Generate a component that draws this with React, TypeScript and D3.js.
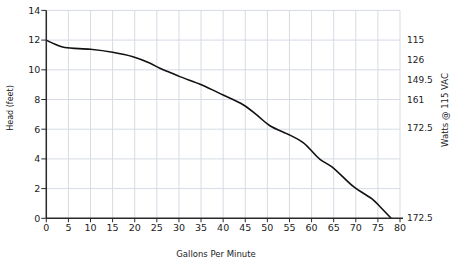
import React from "react";
import * as d3 from "d3";

const gpm = [0, 2.4, 4.2, 10, 15, 19.6, 23.5, 25.7, 27.6, 30.2, 35.2, 40, 44.6, 47.6, 50.5, 55.1, 58.1, 61.9, 64.6, 69.5, 74, 75.5, 78];
const head = [12, 11.67, 11.5, 11.38, 11.18, 10.88, 10.44, 10.1, 9.87, 9.54, 8.98, 8.3, 7.63, 6.96, 6.25, 5.6, 5.1, 3.97, 3.47, 2.13, 1.23, 0.78, 0];
const xTicks = [0, 5, 10, 15, 20, 25, 30, 35, 40, 45, 50, 55, 60, 65, 70, 75, 80];
const yTicks = [0, 2, 4, 6, 8, 10, 12, 14];
const wattLabels = ["115", "126", "149.5", "161", "172.5", "172.5"];
const wattHeads = [12, 10.7, 9.3, 8, 6.1, 0];

export default function App() {
  const W = 452, H = 264;
  const x = d3.scaleLinear().domain([0, 80]).range([46.3, 400]);
  const y = d3.scaleLinear().domain([0, 14]).range([218.3, 10.4]);
  const pts: [number, number][] = gpm.map((g, i) => [g, head[i]]);
  const line = d3.line<[number, number]>().x(d => x(d[0])).y(d => y(d[1])).curve(d3.curveCatmullRom.alpha(0.5));
  const font = "DejaVu Sans, Verdana, sans-serif";
  const grid = "#d6dbe5";
  const axis = "#2a2a2a";
  return (
    <svg width={W} height={H} style={{ position: "absolute", left: 0, top: 0, background: "#fff" }} fontFamily={font}>
      <rect width={W} height={H} fill="#fff" />
      {xTicks.map(t => (
        <line key={"gx" + t} x1={x(t)} x2={x(t)} y1={y(14)} y2={y(0)} stroke={grid} strokeWidth={1} />
      ))}
      {yTicks.map(t => (
        <line key={"gy" + t} x1={x(0)} x2={x(80)} y1={y(t)} y2={y(t)} stroke={grid} strokeWidth={1} />
      ))}
      <path d={line(pts) || ""} fill="none" stroke="#111" strokeWidth={1.6} />
      <line x1={x(0)} x2={x(0)} y1={y(14)} y2={y(0)} stroke={axis} strokeWidth={1.5} />
      <line x1={x(0)} x2={x(80) + 3} y1={y(0)} y2={y(0)} stroke={axis} strokeWidth={1.5} />
      {yTicks.map(t => (
        <g key={"yt" + t}>
          <line x1={x(0) - 5} x2={x(0)} y1={y(t)} y2={y(t)} stroke={axis} strokeWidth={1} />
          <text x={x(0) - 6} y={y(t)} dy="0.35em" textAnchor="end" fontSize={9.5} fill="#222">{t}</text>
        </g>
      ))}
      {xTicks.map(t => (
        <g key={"xt" + t}>
          <line x1={x(t)} x2={x(t)} y1={y(0)} y2={y(0) + 4} stroke={axis} strokeWidth={1} />
          <text x={x(t)} y={231} textAnchor="middle" fontSize={9.5} fill="#222">{t}</text>
        </g>
      ))}
      {wattLabels.map((w, i) => (
        <text key={"w" + i} x={407} y={y(wattHeads[i])} dy="0.35em" fontSize={9} fill="#222">{w}</text>
      ))}
      <text x={216} y={257} textAnchor="middle" fontSize={8.5} fill="#222">Gallons Per Minute</text>
      <text transform={`translate(13,108) rotate(-90)`} textAnchor="middle" fontSize={8} fill="#222">Head (feet)</text>
      <text transform={`translate(448,110) rotate(-90)`} textAnchor="middle" fontSize={8.5} fill="#222">Watts @ 115 VAC</text>
    </svg>
  );
}
